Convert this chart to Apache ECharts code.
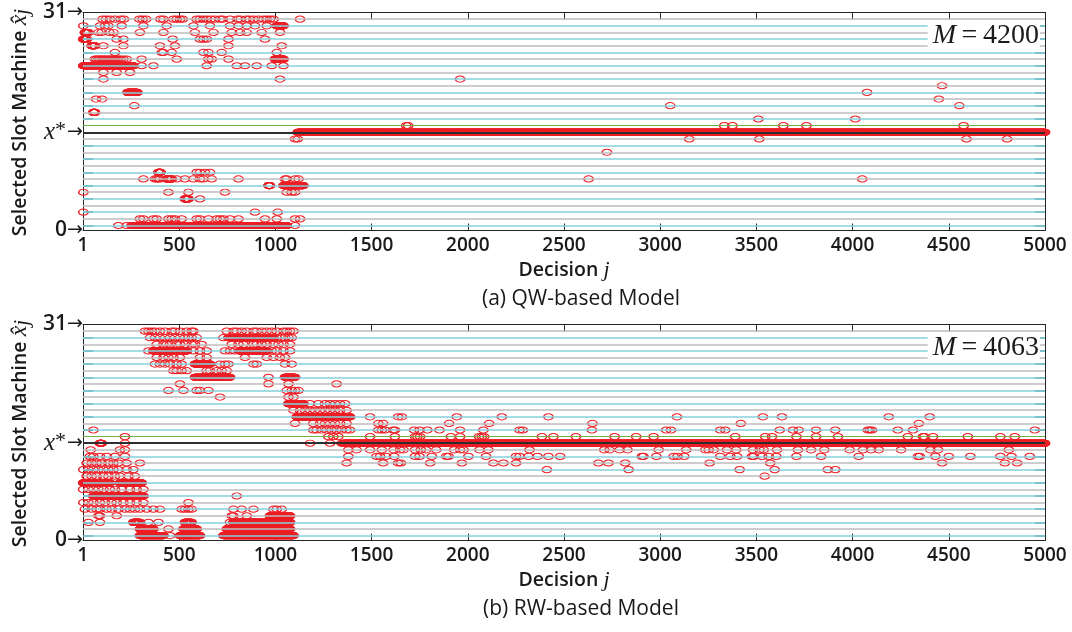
<!DOCTYPE html>
<html><head><meta charset="utf-8">
<script src="https://cdn.jsdelivr.net/npm/echarts@6/dist/echarts.min.js"></script>
<style>html,body{margin:0;padding:0;background:#fff}#c{width:1072px;height:632px}</style>
</head><body><div id="c"></div>
<script>
// ---------- tick labels ----------
const xTickLabels = ['1','500','1000','1500','2000','2500','3000','3500','4000','4500','5000'];
const yTickLabels = ['0','x*','31'];
const panelTitles = ['(a) QW-based Model','(b) RW-based Model'];
const mValues = [4200, 4063];
const bestLevel = 14;     // x*
const greenLevel = 15;
const levelCount = 32;    // machines 0..31

// ---------- QW-based model: runs [startJ, endJ, machine] ----------
const qwRuns = [
  [2,19,28],[10,28,29],[45,62,27],[54,62,17],[2,262,24],[232,282,20],
  [998,1042,25],[1007,1042,30],[964,972,6],[1042,1145,6],[392,403,8],
  [435,461,7],[530,548,4],[253,1059,0],[1116,5000,14]
];
// ---------- QW-based model: single decisions [j, machine] ----------
const qwPoints = [
  [102,31],[120,31],[140,31],[166,31],[196,31],[213,31],[293,31],[310,31],[328,31],[403,31],[418,31],[470,31],[487,31],[504,31],[518,31],[591,31],[608,31],[626,31],[643,31],[664,31],[686,31],[712,31],[726,31],[764,31],[803,31],[819,31],[848,31],[865,31],[886,31],[912,31],[938,31],[955,31],[972,31],[990,31],[1128,31],
  [2,30],[88,30],[114,30],[132,30],[201,30],[314,30],[435,30],[574,30],[660,30],[764,30],[808,30],[851,30],[894,30],[955,30],
  [80,29],[97,29],[137,29],[158,29],[296,29],[418,29],[582,29],[678,29],[773,29],[816,29],[851,29],[929,29],[1024,29],
  [175,28],[210,28],[466,28],[608,28],[626,28],[643,28],[756,28],[946,28],
  [106,27],[210,27],[400,27],[478,27],[756,27],[1033,27],
  [166,26],[409,26],[418,26],[461,26],[626,26],[652,26],[721,26],[1007,26],
  [62,25],[70,25],[80,25],[88,25],[97,25],[106,25],[114,25],[123,25],[132,25],[140,25],[149,25],[158,25],[166,25],[175,25],[184,25],[196,25],[210,25],[227,25],[305,25],[487,25],[652,25],[669,25],[756,25],
  [305,24],[366,24],[643,24],[799,24],[842,24],[903,24],[981,24],[1042,24],
  [106,23],[175,23],[244,23],
  [106,22],[1024,22],[1960,22],
  [4075,20],[4465,21],
  [68,19],[99,19],[4448,19],
  [267,18],[3052,18],[4555,18],
  [3510,16],[4014,16],
  [1680,15],[1690,15],[3333,15],[3375,15],[3640,15],[3760,15],[4577,15],
  [1102,13],[1116,13],[3151,13],[3515,13],[4592,13],[4803,13],
  [2723,11],
  [591,8],[608,8],[634,8],[660,8],
  [314,7],[374,7],[383,7],[392,7],[400,7],[487,7],[530,7],[574,7],[608,7],[626,7],[669,7],[808,7],[1050,7],[1059,7],[1102,7],[1120,7],[2628,7],[4050,7],
  [2,5],[444,5],[548,5],[738,5],[1059,5],[1085,5],[1102,5],
  [608,4],
  [2,2],[894,2],[1012,2],
  [296,1],[314,1],[366,1],[383,1],[444,1],[461,1],[478,1],[513,1],[591,1],[608,1],[652,1],[695,1],[712,1],[730,1],[764,1],[808,1],[946,1],[1007,1],[1102,1],[1128,1],
  [184,0],[227,0],[1102,0]
];

// ---------- RW-based model: runs [startJ, endJ, machine] ----------
const rwRuns = [
  [756,990,30],[366,539,28],[816,955,28],[582,660,26],[582,764,24],[1050,1102,24],
  [1068,1145,20],[1111,1388,18],[88,97,14],[1353,5000,14],[1,140,8],[192,305,8],
  [54,140,6],[166,314,6],[972,1076,3],[262,296,2],[530,565,2],[782,1076,2],
  [296,366,1],[522,591,1],[747,1076,1],[296,418,0],[504,608,0],[730,1094,0]
];
// ---------- RW-based model: single decisions [j, machine] ----------
const rwPoints = [
  [322,31],[340,31],[357,31],[374,31],[400,31],[426,31],[461,31],[478,31],[504,31],[539,31],[565,31],[574,31],[747,31],[782,31],[799,31],[825,31],[851,31],[886,31],[903,31],[929,31],[955,31],[981,31],[1007,31],[1042,31],[1059,31],[1076,31],[1094,31],
  [348,30],[374,30],[400,30],[426,30],[452,30],[478,30],[504,30],[530,30],[548,30],[565,30],[591,30],[730,30],[1007,30],[1033,30],[1050,30],[1068,30],[1085,30],
  [383,29],[418,29],[435,29],[452,29],[487,29],[504,29],[530,29],[565,29],[582,29],[617,29],[773,29],[808,29],[834,29],[886,29],[903,29],[929,29],[955,29],[990,29],[1016,29],[1042,29],[1076,29],
  [340,28],[574,28],[608,28],[643,28],[738,28],[764,28],[790,28],[981,28],[1007,28],[1042,28],[1076,28],
  [383,27],[418,27],[444,27],[470,27],[504,27],[608,27],[643,27],[842,27],[955,27],[990,27],[1024,27],[1050,27],
  [374,26],[400,26],[426,26],[452,26],[487,26],[513,26],[712,26],[738,26],[756,26],[886,26],[903,26],[1050,26],[1085,26],
  [470,25],[487,25],[513,25],[539,25],[643,25],[660,25],[695,25],[721,25],[747,25],
  [964,24],
  [504,23],[964,23],[1068,23],[1318,23],
  [444,22],[522,22],[591,22],[608,22],[652,22],[1059,22],[1085,22],[1102,22],[1120,22],
  [712,21],[1068,21],[1094,21],
  [1180,20],[1223,20],[1258,20],[1284,20],[1310,20],[1336,20],[1362,20],
  [1094,19],[1128,19],[1154,19],[1180,19],[1206,19],[1232,19],[1258,19],[1284,19],[1310,19],[1336,19],[1370,19],
  [1492,18],[1638,18],[1657,18],[1943,18],[2177,18],[2419,18],[3087,18],[3534,18],[3633,18],[4188,18],[4401,18],
  [1102,17],[1197,17],[1232,17],[1258,17],[1284,17],[1310,17],[1336,17],[1370,17],[1535,17],[1560,17],[1903,17],[2111,17],[2648,17],[3419,17],[4344,17],
  [54,16],[1197,16],[1214,16],[1240,16],[1266,16],[1292,16],[1318,16],[1344,16],[1370,16],[1388,16],[1535,16],[1553,16],[1570,16],[1612,16],[1622,16],[1721,16],[1749,16],[1790,16],[1853,16],[1960,16],[2081,16],[2269,16],[2286,16],[2645,16],[3031,16],[3056,16],[3312,16],[3338,16],[3621,16],[3690,16],[3720,16],[3810,16],[3910,16],[4079,16],[4089,16],[4101,16],[4235,16],[4314,16],[4947,16],
  [218,15],[1275,15],[1301,15],[1327,15],[1492,15],[1621,15],[1726,15],[1738,15],[1752,15],[1912,15],[1960,15],[2059,15],[2073,15],[2085,15],[2385,15],[2445,15],[2562,15],[2763,15],[2875,15],[2966,15],[3390,15],[3546,15],[3581,15],[3708,15],[3810,15],[3924,15],[4287,15],[4366,15],[4373,15],[4418,15],[4599,15],[4768,15],[4843,15],
  [218,14],[1180,14],[1284,14],[1344,14],
  [40,13],[192,13],[218,13],[1379,13],[1422,13],[1492,13],[1553,13],[1614,13],[1648,13],[1666,13],[1726,13],[1756,13],[1783,13],[1836,13],[1929,13],[1960,13],[1978,13],[2061,13],[2107,13],[2321,13],[2709,13],[2737,13],[2789,13],[2830,13],[2992,13],[3135,13],[3234,13],[3252,13],[3278,13],[3347,13],[3395,13],[3482,13],[3517,13],[3538,13],[3607,13],[3716,13],[3784,13],[3853,13],[3985,13],[4054,13],[4096,13],[4136,13],[4252,13],[4404,13],[4444,13],[4812,13],
  [36,12],[54,12],[88,12],[123,12],[166,12],[218,12],[1379,12],[1526,12],[1544,12],[1575,12],[1617,12],[1726,12],[1749,12],[1813,12],[1888,12],[1900,12],[2003,12],[2095,12],[2251,12],[2269,12],[2316,12],[2362,12],[2419,12],[2480,12],[2905,12],[2913,12],[2980,12],[3070,12],[3090,12],[3125,12],[3312,12],[3364,12],[3399,12],[3477,12],[3486,12],[3529,12],[3564,12],[3603,12],[3708,12],[3836,12],[4032,12],[4340,12],[4349,12],[4430,12],[4500,12],[4612,12],[4768,12],[4826,12],[4921,12],
  [19,11],[45,11],[71,11],[97,11],[132,11],[158,11],[184,11],[227,11],[296,11],[1370,11],[1560,11],[1638,11],[1652,11],[1804,11],[1969,11],[2133,11],[2185,11],[2251,11],[2679,11],[2731,11],[2818,11],[3257,11],[3572,11],[4465,11],[4791,11],[4855,11],
  [2,10],[28,10],[54,10],[80,10],[106,10],[132,10],[158,10],[184,10],[227,10],[262,10],[2411,10],[2836,10],[3413,10],[3595,10],[3871,10],[3910,10],
  [19,9],[45,9],[71,9],[106,9],[132,9],[166,9],[192,9],[236,9],[270,9],[3543,9],
  [1,7],[28,7],[54,7],[80,7],[106,7],[140,7],[166,7],[201,7],[244,7],[279,7],[314,7],
  [2,5],[28,5],[54,5],[88,5],[114,5],[149,5],[175,5],[210,5],[244,5],[279,5],[314,5],[548,5],[799,6],
  [10,4],[45,4],[71,4],[88,4],[123,4],[149,4],[184,4],[218,4],[244,4],[270,4],[296,4],[331,4],[366,4],[400,4],[513,4],[530,4],[548,4],[565,4],[782,4],[825,4],[886,4],[990,4],[1007,4],[1033,4],
  [80,3],[88,3],[175,3],[773,3],[782,3],[851,3],
  [28,2],[88,2],[340,2],[392,2],[764,2],
  [444,1],[452,0]
];

// ---------- build ----------
function decisions(runs, points) {
  const out = [];
  runs.forEach(([a, b, m]) => { for (let j = a; j <= b; j++) out.push([j, m]); });
  points.forEach(p => out.push(p));
  return out;
}
const SANS = "'Open Sans', Lato, 'DejaVu Sans', sans-serif";
const SERIF = "'Liberation Serif', 'DejaVu Serif', serif";
const INK = '#1a1a1a';
const levels = Array.from({length: levelCount}, (_, k) => k);
const evenLevels = levels.filter(k => k % 2 === 0);

function levelLineData() {
  return levels.map(k => ({
    yAxis: k,
    lineStyle: {
      color: k === bestLevel ? '#2e2e2e' : (k === greenLevel ? '#72b04c' : (k % 2 ? '#bdbdbd' : '#86d0dc')),
      width: k === greenLevel ? 1 : (k === bestLevel ? 1.8 : 1.6), type: 'solid'
    }
  }));
}

const grids = [
  {left: 83, right: 27, top: 12.5, height: 218},
  {left: 83, right: 27, top: 324.5, height: 216}
];
const xAxis = [], yAxis = [], series = [], titles = [];
grids.forEach((g, gi) => {
  const axLine = {show: true, onZero: false, lineStyle: {color: '#262626', width: 1}};
  xAxis.push({gridIndex: gi, type: 'value', min: 0, max: 5000, interval: 500, position: 'bottom',
    axisLine: axLine, axisTick: {inside: true, length: 7, lineStyle: {color: '#262626'}},
    axisLabel: {formatter: (v) => xTickLabels[Math.round(v / 500)], margin: 6, color: INK,
      fontFamily: SANS, fontWeight: 600, fontSize: 19},
    splitLine: {show: false}});
  xAxis.push({gridIndex: gi, type: 'value', min: 0, max: 5000, interval: 500, position: 'top',
    axisLine: axLine, axisTick: {inside: true, length: 7, lineStyle: {color: '#262626'}},
    axisLabel: {show: false}, splitLine: {show: false}});
  const yTick = {show: true, inside: true, length: 10, customValues: evenLevels,
    lineStyle: {color: '#5e9ca6', width: 2}};
  yAxis.push({gridIndex: gi, type: 'value', min: -0.75, max: 32, position: 'left',
    axisLine: axLine, axisTick: yTick,
    axisLabel: {customValues: [-0.75, bestLevel, 32], margin: 0,
      formatter: (v) => {
        const idx = v < 0 ? 0 : (v > 31 ? 2 : 1);
        const t = yTickLabels[idx];
        return (t === 'x*' ? '{m|x}{s|*}' : '{n|' + t + '}') + '{a|→}';
      },
      rich: {
        n: {fontFamily: SANS, fontWeight: 600, fontSize: 21, color: INK},
        m: {fontFamily: SERIF, fontStyle: 'italic', fontSize: 25, color: INK},
        s: {fontFamily: SERIF, fontSize: 22, color: INK, padding: [0, 1, 4, 0]},
        a: {fontFamily: "'DejaVu Sans', sans-serif", fontSize: 19, color: INK}
      }},
    splitLine: {show: false}});
  yAxis.push({gridIndex: gi, type: 'value', min: -0.75, max: 32, position: 'right',
    axisLine: axLine, axisTick: yTick, axisLabel: {show: false}, splitLine: {show: false}});

  series.push({type: 'line', xAxisIndex: gi * 2, yAxisIndex: gi * 2, data: [], z: 1, silent: true,
    markLine: {silent: true, symbol: ['none', 'none'], label: {show: false}, animation: false,
      data: levelLineData()}});
  series.push({type: 'scatter', xAxisIndex: gi * 2, yAxisIndex: gi * 2, z: 3,
    data: gi === 0 ? decisions(qwRuns, qwPoints) : decisions(rwRuns, rwPoints),
    symbol: 'circle', symbolSize: [9.4, 6.2], clip: false, progressive: 0, large: false,
    itemStyle: {color: 'rgba(255,255,255,0)', borderColor: '#ec2027', borderWidth: 1.2, opacity: 1},
    emphasis: {disabled: true}});

  titles.push({
    text: '{m|M}{t|\u2009=\u2009' + mValues[gi] + '}',
    right: 32, top: g.top + 11.5, padding: [0, 1, 0, 5], backgroundColor: '#ffffff',
    itemGap: 0, z: 50,
    textStyle: {fontWeight: 'normal', rich: {
      m: {fontFamily: SERIF, fontStyle: 'italic', fontWeight: 'normal', fontSize: 28, color: INK, lineHeight: 23},
      t: {fontFamily: SERIF, fontWeight: 'normal', fontSize: 28, color: INK, lineHeight: 23}
    }}
  });
});

const graphic = [];
grids.forEach((g, gi) => {
  const top = g.top, bottom = g.top + g.height;
  graphic.push({type: 'text', x: 20, y: (top + bottom) / 2 + 1, rotation: Math.PI / 2, z: 100,
    style: {text: '{a|Selected Slot Machine }{m|x\u0302}{j|j}', align: 'center', verticalAlign: 'middle',
      rich: {
        a: {fontFamily: SANS, fontWeight: 600, fontSize: 19.5, fill: INK},
        m: {fontFamily: SERIF, fontStyle: 'italic', fontSize: 24, fill: INK},
        j: {fontFamily: SERIF, fontStyle: 'italic', fontSize: 21, fill: INK, padding: [5, 0, 0, 0]}
      }}});
  graphic.push({type: 'text', x: 564, y: bottom + 40, z: 100,
    style: {text: '{a|Decision }{j|j}', align: 'center', verticalAlign: 'middle',
      rich: {
        a: {fontFamily: SANS, fontWeight: 600, fontSize: 19.5, fill: INK},
        j: {fontFamily: SERIF, fontStyle: 'italic', fontSize: 22, fill: INK}
      }}});
  graphic.push({type: 'text', x: 581, y: bottom + 69, z: 100,
    style: {text: panelTitles[gi], align: 'center', verticalAlign: 'middle',
      fontFamily: SANS, fontWeight: 500, fontSize: 21, fill: INK}});
});

const chart = echarts.init(document.getElementById('c'), null, {renderer: 'canvas'});
chart.setOption({
  animation: false,
  backgroundColor: '#ffffff',
  title: titles,
  grid: grids,
  xAxis: xAxis,
  yAxis: yAxis,
  series: series,
  graphic: graphic
});
</script>
</body></html>
